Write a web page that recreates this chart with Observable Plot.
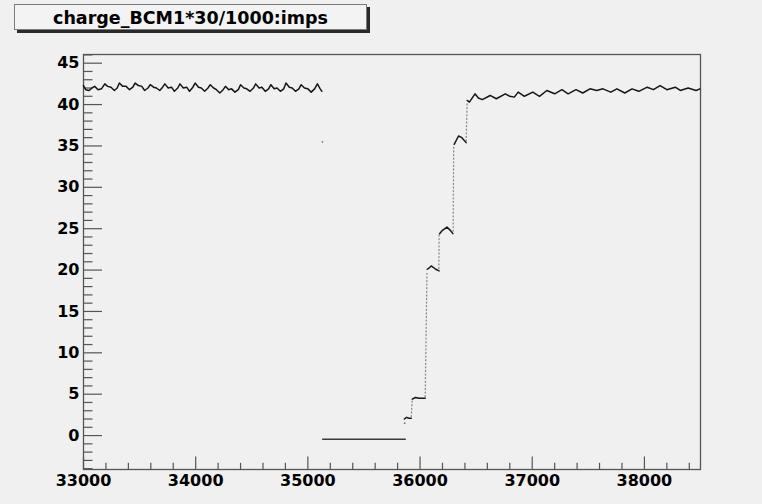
<!DOCTYPE html>
<html>
<head>
<meta charset="utf-8">
<script src="https://cdn.jsdelivr.net/npm/d3@7"></script>
<script src="https://cdn.jsdelivr.net/npm/@observablehq/plot@0.6"></script>
<style>
  html, body { margin: 0; padding: 0; background: #f0f0f0; }
  #wrap { position: relative; width: 762px; height: 504px; }
  #title {
    position: absolute; left: 14px; top: 4px; width: 351px; height: 24px;
    border: 1px solid #7a7a7a; background: #f3f3f3;
    box-shadow: 3px 3px 0 #2a2a2a;
    font-family: "DejaVu Sans", sans-serif; font-weight: bold; font-size: 17.5px;
    line-height: 27px; text-align: center; color: #000; box-sizing: content-box;
  }
</style>
</head>
<body>
<div id="wrap"><div id="title">charge_BCM1*30/1000:imps</div></div>
<script>
// ---- data: [imps, charge] ----
const beforeTrip = [
  [33000,42.3],[33020,41.8],[33050,41.7],[33075,42.0],[33100,42.2],[33130,41.8],[33160,41.9],
  [33190,42.5],[33215,42.2],[33245,42.1],[33275,41.7],[33300,42.0],[33320,42.6],[33350,42.2],
  [33380,42.2],[33410,41.8],[33440,42.1],[33460,42.6],[33490,42.3],[33520,42.2],[33545,41.7],
  [33575,42.0],[33595,42.4],[33625,42.1],[33650,42.0],[33680,41.7],[33705,42.1],[33725,42.5],
  [33755,42.0],[33785,42.1],[33810,41.6],[33840,42.0],[33860,42.5],[33890,42.0],[33920,42.1],
  [33945,41.6],[33975,42.1],[33995,42.6],[34025,42.1],[34050,42.0],[34080,41.6],[34110,42.0],
  [34130,42.4],[34160,42.0],[34185,41.8],[34215,41.4],[34245,41.8],[34265,42.2],[34295,41.8],
  [34320,41.9],[34350,41.5],[34380,41.8],[34400,42.4],[34430,42.0],[34455,41.9],[34485,41.6],
  [34515,42.0],[34535,42.5],[34565,42.0],[34590,42.1],[34620,41.6],[34650,41.9],[34670,42.4],
  [34700,41.9],[34725,42.0],[34755,41.6],[34785,41.9],[34805,42.6],[34835,42.1],[34860,42.0],
  [34890,41.6],[34920,41.9],[34940,42.4],[34970,42.0],[35000,41.9],[35030,41.5],[35060,41.9],
  [35085,42.5],[35110,41.9],[35125,41.6]
];
const strayPoints = [[35130,35.5],[35863,1.5]];
const beamOff = [[35132,-0.45],[35868,-0.45]];
const step1 = [[35860,2.0],[35880,2.2],[35900,2.1],[35922,2.1]];
const step2 = [[35930,4.4],[35960,4.6],[35990,4.5],[36020,4.5],[36046,4.5]];
const step3 = [[36064,20.1],[36085,20.3],[36100,20.5],[36140,20.1],[36170,19.9]];
const step4 = [[36174,24.4],[36200,24.8],[36240,25.2],[36270,24.8],[36293,24.4]];
const step5 = [[36304,35.2],[36343,36.2],[36373,36.0],[36411,35.4]];
const afterRamp = [
  [36420,40.5],[36440,40.3],[36490,41.3],[36520,40.8],[36555,40.6],[36625,41.1],[36680,40.7],
  [36760,41.3],[36800,41.0],[36840,40.9],[36875,41.5],[36930,41.0],[37005,41.5],[37065,41.0],
  [37130,41.7],[37200,41.3],[37265,41.8],[37320,41.3],[37390,41.8],[37450,41.4],[37515,41.9],
  [37575,41.7],[37630,41.9],[37700,41.5],[37755,41.9],[37825,41.4],[37890,41.9],[37950,41.6],
  [38025,42.1],[38080,41.8],[38140,42.3],[38200,41.8],[38275,42.1],[38320,41.7],[38390,42.0],
  [38460,41.7],[38495,41.9]
];
// sparse ramp points between plateaus (start, end of each dotted climb)
const rampIds = ["r1","r1","r2","r2","r3","r3","r4","r4","r5","r5"];
const rampPts = [[35922,2.3],[35930,4.3],[36046,4.7],[36062,19.9],[36168,20.2],[36170,24.3],
                 [36295,24.7],[36300,35.1],[36411,35.6],[36420,40.3]];

const xDomain = [33000, 38500];
const yDomain = [-4.1, 46.05];
const xMajor = [33000, 34000, 35000, 36000, 37000, 38000];
const xMinor = [33200,33400,33600,33800,34200,34400,34600,34800,35200,35400,35600,35800,
                36200,36400,36600,36800,37200,37400,37600,37800,38200,38400];
const yMajor = [0, 5, 10, 15, 20, 25, 30, 35, 40, 45];
const yMinor = [-4,-3,-2,-1,1,2,3,4,6,7,8,9,11,12,13,14,16,17,18,19,21,22,23,24,
                26,27,28,29,31,32,33,34,36,37,38,39,41,42,43,44,46];

// ---- layout ----
const W = 762, H = 504, mL = 83, mR = 62, mT = 54, mB = 35;
const unitsPerPxX = (xDomain[1] - xDomain[0]) / (W - mL - mR);
const unitsPerPxY = (yDomain[1] - yDomain[0]) / (H - mT - mB);
const rampData = rampPts.map((p, i) => ({x: p[0], y: p[1], id: rampIds[i]}));

const chart = Plot.plot({
  width: W, height: H,
  marginLeft: mL, marginRight: mR, marginTop: mT, marginBottom: mB,
  x: {domain: xDomain},
  y: {domain: yDomain},
  style: {background: "#f0f0f0", fontFamily: "DejaVu Sans, sans-serif", fontWeight: "bold", fontSize: "16px", color: "#000", overflow: "visible"},
  marks: [
    // ticks (ROOT style, inside the frame)
    Plot.ruleY(yMajor, {y: d => d, x1: xDomain[0], x2: xDomain[0] + 19 * unitsPerPxX, stroke: "#555", strokeWidth: 1.2}),
    Plot.ruleY(yMinor, {y: d => d, x1: xDomain[0], x2: xDomain[0] + 9.5 * unitsPerPxX, stroke: "#555", strokeWidth: 1.2}),
    Plot.ruleX(xMajor, {x: d => d, y1: yDomain[0], y2: yDomain[0] + 12.5 * unitsPerPxY, stroke: "#555", strokeWidth: 1.2}),
    Plot.ruleX(xMinor, {x: d => d, y1: yDomain[0], y2: yDomain[0] + 6.2 * unitsPerPxY, stroke: "#555", strokeWidth: 1.2}),
    Plot.frame({stroke: "#555", strokeWidth: 1.3}),
    Plot.axisY(yMajor, {anchor: "left", tickSize: 0, tickPadding: 4, tickFormat: "d", label: null, fill: "#000"}),
    Plot.axisX(xMajor, {anchor: "bottom", tickSize: 0, tickPadding: 5, tickFormat: "d", label: null, fill: "#000"}),
    // data
    Plot.line(rampData, {x: "x", y: "y", z: "id", stroke: "#8a8a8a", strokeWidth: 1.3, strokeDasharray: "1,2.6"}),
    Plot.line(beamOff, {x: d => d[0], y: d => d[1], stroke: "#3a3a3a", strokeWidth: 1.6}),
    Plot.dot(strayPoints, {x: d => d[0], y: d => d[1], r: 0.9, fill: "#777", stroke: null}),
    ...[beforeTrip, step1, step2, step3, step4, step5, afterRamp].map(seg =>
      Plot.line(seg, {x: d => d[0], y: d => d[1], stroke: "#161616", strokeWidth: 1.5}))
  ]
});
document.getElementById("wrap").prepend(chart);
chart.style.position = "absolute";
chart.style.left = "0px";
chart.style.top = "0px";
document.getElementById("title").style.zIndex = 2;
</script>
</body>
</html>
